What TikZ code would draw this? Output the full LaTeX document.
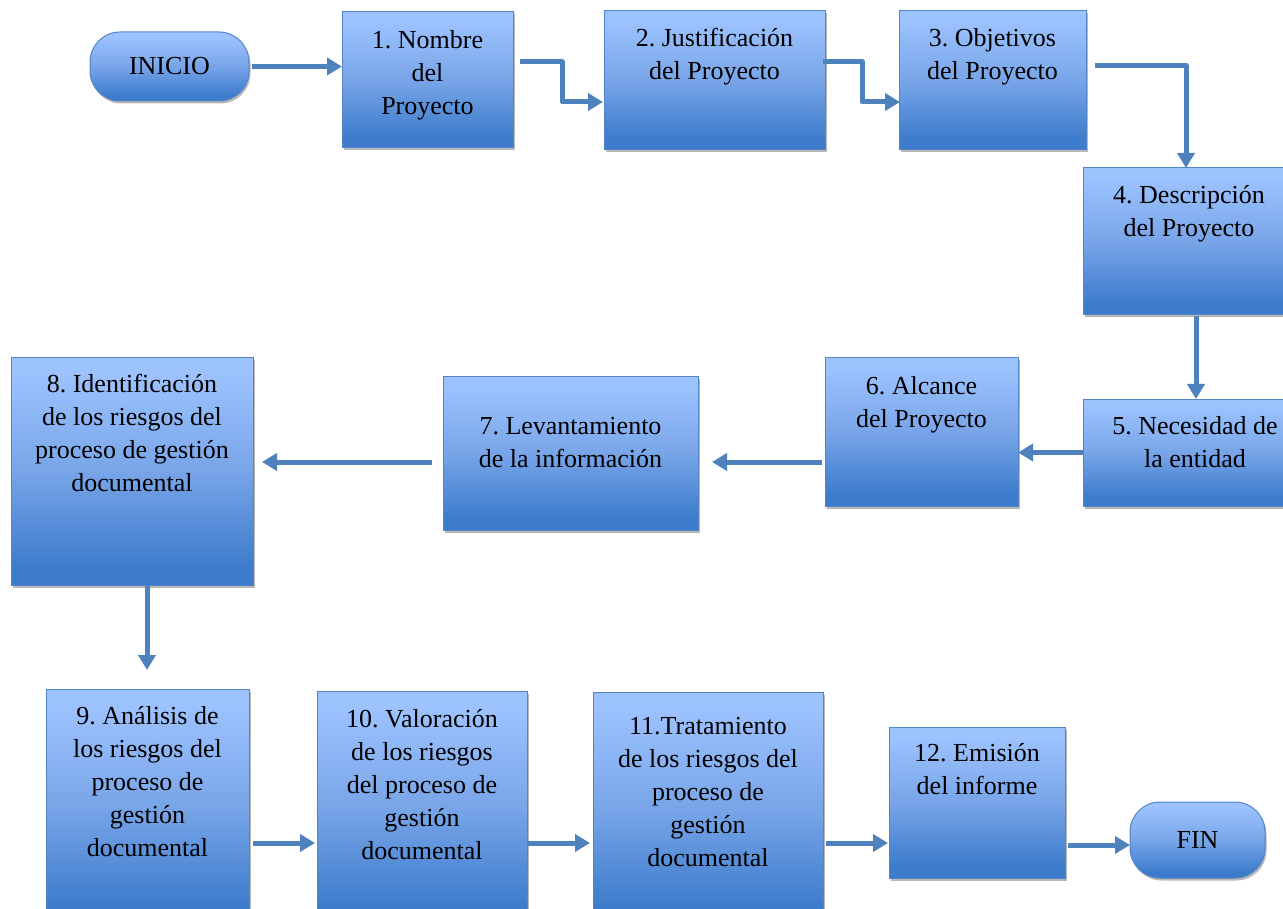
\documentclass[tikz,border=0pt]{standalone}
\usepackage{fontspec}
\setmainfont{Liberation Serif}
\usetikzlibrary{arrows.meta,shadows}
\frenchspacing

\definecolor{blight}{RGB}{157,195,255}
\definecolor{bmid}{RGB}{120,165,232}
\definecolor{bdark}{RGB}{61,124,204}
\definecolor{bline}{RGB}{82,132,198}
\definecolor{arrowblue}{RGB}{79,129,189}

% light-to-dark fill of the step boxes (inner 25bp..75bp spans the box)
\pgfdeclareverticalshading{boxshade}{100bp}{color(0bp)=(bdark); color(29bp)=(bdark); color(50bp)=(bmid); color(72bp)=(blight); color(100bp)=(blight)}

\tikzset{
  stepbox/.style={rectangle, draw=bline, line width=1pt, shading=boxshade,
    inner sep=0pt, outer sep=0pt,
    drop shadow={shadow xshift=1.5pt, shadow yshift=-2.5pt, fill=black, opacity=0.28}},
  terminal/.style={stepbox, rounded corners=30pt, font=\fontsize{26}{33}\selectfont},
  steptext/.style={anchor=north, align=center, inner sep=0pt,
    font=\fontsize{26}{33}\selectfont},
  arr/.style={draw=arrowblue, line width=5pt, line join=round,
    -{Triangle[length=15pt,width=17pt]}},
}

\begin{document}
\begin{tikzpicture}[x=1pt,y=-1pt]
\useasboundingbox (0,0) rectangle (1283,909);

% terminals
\node[terminal, minimum width=159, minimum height=69] (ini) at (169.5,66.5) {INICIO};
\node[terminal, minimum width=135, minimum height=76] (fin) at (1197.5,840) {FIN};

% step boxes
\node[stepbox, minimum width=171, minimum height=136] (n1) at (427.5,80) {};
\node[stepbox, minimum width=221, minimum height=139] (n2) at (714.5,80.5) {};
\node[stepbox, minimum width=187, minimum height=139] (n3) at (992.5,80.5) {};
\node[stepbox, minimum width=212, minimum height=147] (n4) at (1189,241.5) {};
\node[stepbox, minimum width=224, minimum height=107] (n5) at (1195,452.5) {};
\node[stepbox, minimum width=193, minimum height=148] (n6) at (921.5,432) {};
\node[stepbox, minimum width=255, minimum height=153] (n7) at (570.5,453.5) {};
\node[stepbox, minimum width=242, minimum height=227] (n8) at (132,471.5) {};
\node[stepbox, minimum width=203, minimum height=236] (n9) at (147.5,807) {};
\node[stepbox, minimum width=210, minimum height=234] (n10) at (422,808) {};
\node[stepbox, minimum width=230, minimum height=233] (n11) at (708,808.5) {};
\node[stepbox, minimum width=176, minimum height=151] (n12) at (977,802.5) {};

% step labels
\node[steptext] (t1) at ([shift={(0,13.5)}]n1.north) {\strut 1. Nombre\\del\\Proyecto};
\node[steptext] (t2) at ([shift={(0,12.5)}]n2.north) {\strut 2. Justificación\\del Proyecto};
\node[steptext] (t3) at ([shift={(0,12.5)}]n3.north) {\strut 3. Objetivos\\del Proyecto};
\node[steptext] (t4) at ([shift={(0,12.5)}]n4.north) {\strut 4. Descripción\\del Proyecto};
\node[steptext] (t5) at ([shift={(0,12.5)}]n5.north) {\strut 5. Necesidad de\\la entidad};
\node[steptext] (t6) at ([shift={(0,13.5)}]n6.north) {\strut 6. Alcance\\del Proyecto};
\node[steptext] (t7) at ([shift={(0,34.5)}]n7.north) {\strut 7. Levantamiento\\de la información};
\node[steptext] (t8) at ([shift={(0,11.5)}]n8.north) {\strut 8. Identificación\\de los riesgos del\\proceso de gestión\\documental};
\node[steptext] (t9) at ([shift={(0,12.5)}]n9.north) {\strut 9. Análisis de\\los riesgos del\\proceso de\\gestión\\documental};
\node[steptext] (t10) at ([shift={(0,13.5)}]n10.north) {\strut 10. Valoración\\de los riesgos\\del proceso de\\gestión\\documental};
\node[steptext] (t11) at ([shift={(0,19.5)}]n11.north) {\strut 11.Tratamiento\\de los riesgos del\\proceso de\\gestión\\documental};
\node[steptext] (t12) at ([shift={(0,11.5)}]n12.north) {\strut 12. Emisión\\del informe};

% connectors
\draw[arr] ([shift={(3,0)}]ini.east) -- (ini.east -| n1.west);
\draw[arr] ([shift={(7,50)}]n1.north east) -- ++(42,0) |- ([shift={(-1,91)}]n2.north west);
\draw[arr] ([shift={(-2,51)}]n2.north east) -- ++(39,0) |- ([shift={(1,91)}]n3.north west);
\draw[arr] ([shift={(9,55)}]n3.north east) -| ([shift={(103,0)}]n4.north west);
\draw[arr] ([shift={(113,1)}]n4.south west) -- ([shift={(113,0)}]n5.north west);
\draw[arr] (n5.west) -- (n5.west -| n6.east);
\draw[arr] ([shift={(-3,104)}]n6.north west) -- ([shift={(14,85)}]n7.north east);
\draw[arr] ([shift={(-11,85)}]n7.north west) -- ([shift={(9,104)}]n8.north east);
\draw[arr] ([shift={(136,1)}]n8.south west) -- ([shift={(101,-19)}]n9.north west);
\draw[arr] ([shift={(4,154)}]n9.north east) -- ([shift={(-2,152)}]n10.north west);
\draw[arr] ([shift={(0,152)}]n10.north east) -- ([shift={(-3,151)}]n11.north west);
\draw[arr] ([shift={(3,151)}]n11.north east) -- ([shift={(-1,116)}]n12.north west);
\draw[arr] ([shift={(3,118)}]n12.north east) -- ([shift={(0,43)}]fin.north west);
\end{tikzpicture}
\end{document}
